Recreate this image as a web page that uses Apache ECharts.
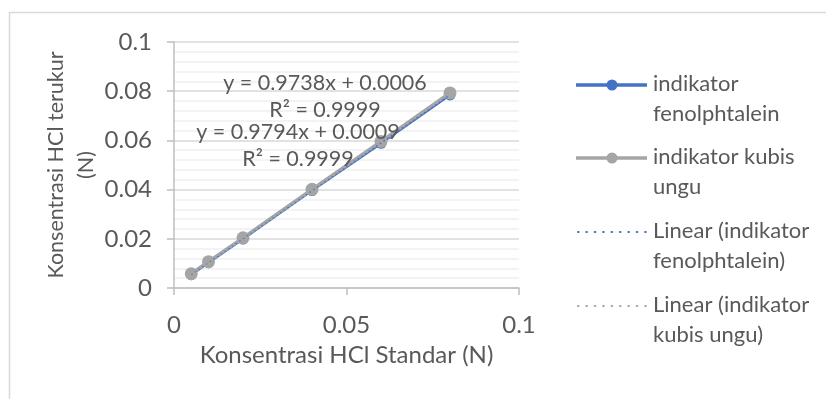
<!DOCTYPE html>
<html><head><meta charset="utf-8">
<script src="https://cdn.jsdelivr.net/npm/echarts@6/dist/echarts.min.js"></script>
<style>html,body{margin:0;padding:0;background:#fff}#c{width:826px;height:399px}</style>
</head><body><div id="c"></div>
<script>
const xStandar = [0.005, 0.01, 0.02, 0.04, 0.06, 0.08];
const yFenol = [0.0054, 0.0103, 0.0199, 0.0396, 0.0588, 0.0785];
const yKubis = [0.0058, 0.0107, 0.0204, 0.0401, 0.0596, 0.0793];
const trendX = [0.005, 0.08];
const trendFenol = [0.0055, 0.0785];
const trendKubis = [0.0058, 0.0793];
const eqFenol = ['y = 0.9738x + 0.0006', 'R² = 0.9999'];
const eqKubis = ['y = 0.9794x + 0.0009', 'R² = 0.9999'];
const xTicks = [0, 0.05, 0.1];
const yTicks = [0, 0.02, 0.04, 0.06, 0.08, 0.1];
const legendNames = ['indikator\nfenolphtalein', 'indikator kubis\nungu', 'Linear (indikator\nfenolphtalein)', 'Linear (indikator\nkubis ungu)'];

const BLUE = '#4472C4', GRAY = '#A5A5A5', TXT = '#595959';
const FONT = 'Lato, "Open Sans", sans-serif';
const chart = echarts.init(document.getElementById('c'), null, {renderer: 'canvas'});

function pairs(xs, ys) { return xs.map((x, i) => [x, ys[i]]); }

const legendItems = [];
const legY = [85, 158, 232, 306];
legendNames.forEach((n, i) => {
  const y = legY[i];
  const col = (i % 2 === 0) ? BLUE : GRAY;
  if (i < 2) {
    legendItems.push({type: 'line', shape: {x1: 576, y1: y, x2: 647, y2: y}, style: {stroke: col, lineWidth: 3.5}});
    legendItems.push({type: 'circle', shape: {cx: 612, cy: y, r: 5.5}, style: {fill: col}});
  } else {
    legendItems.push({type: 'line', shape: {x1: 578, y1: y, x2: 646, y2: y}, style: {stroke: col, lineWidth: 2.2, lineDash: [0.5, 7.9], lineCap: 'round'}});
  }
  legendItems.push({type: 'text', x: 653, y: y - 16, style: {text: n, fill: TXT, font: '22px ' + FONT, lineHeight: 30, textVerticalAlign: 'top'}, z: 10});
});

function eqText(x, y, t) {
  return {type: 'text', x: x, y: y, z: 10, style: {text: t, fill: TXT, font: '21.5px ' + FONT, textAlign: 'center', textVerticalAlign: 'middle'}};
}

const option = {
  animation: false,
  backgroundColor: '#fff',
  textStyle: {fontFamily: FONT},
  grid: {left: 174, right: 307, top: 42, bottom: 111, containLabel: false},
  xAxis: {
    type: 'value', min: 0, max: 0.1, interval: 0.05,
    name: 'Konsentrasi HCl Standar (N)', nameLocation: 'middle', nameGap: 55,
    nameTextStyle: {color: TXT, fontSize: 24, fontFamily: FONT},
    axisLine: {show: true, onZero: false, lineStyle: {color: '#BFBFBF', width: 1.5}},
    axisTick: {show: true, length: 7, lineStyle: {color: '#BFBFBF', width: 1.5}},
    axisLabel: {color: TXT, fontSize: 24, margin: 25, fontFamily: FONT, formatter: v => String(+v.toFixed(3))},
    splitLine: {show: false}
  },
  yAxis: {
    type: 'value', min: 0, max: 0.1, interval: 0.02,
    name: 'Konsentrasi HCl terukur\n(N)', nameLocation: 'middle', nameGap: 72,
    nameTextStyle: {color: TXT, fontSize: 21.5, lineHeight: 30, fontFamily: FONT},
    axisLine: {show: true, lineStyle: {color: '#BFBFBF', width: 1.5}},
    axisTick: {show: true, length: 7, lineStyle: {color: '#BFBFBF', width: 1.5}},
    axisLabel: {color: TXT, fontSize: 24, margin: 22, fontFamily: FONT, formatter: v => String(+v.toFixed(3))},
    splitLine: {show: true, lineStyle: {color: '#D9D9D9', width: 1.5}},
    minorTick: {show: false, splitNumber: 5},
    minorSplitLine: {show: true, lineStyle: {color: '#F0F0F0', width: 1.5}}
  },
  series: [
    {name: 'fenol', type: 'line', data: pairs(xStandar, yFenol), symbol: 'circle', symbolSize: 11,
     itemStyle: {color: BLUE}, lineStyle: {color: BLUE, width: 2.5}, z: 3},
    {name: 'kubis', type: 'line', data: pairs(xStandar, yKubis), symbol: 'circle', symbolSize: 13,
     itemStyle: {color: GRAY}, lineStyle: {color: GRAY, width: 3.5}, z: 4},
    {name: 'trendFenol', type: 'line', data: pairs(trendX, trendFenol), symbol: 'none',
     lineStyle: {color: BLUE, width: 1.5, type: [1.5, 3]}, z: 5},
    {name: 'trendKubis', type: 'line', data: pairs(trendX, trendKubis), symbol: 'none',
     lineStyle: {color: GRAY, width: 1.5, type: [1.5, 3]}, z: 5}
  ],
  graphic: [
    {type: 'rect', shape: {x: 9.5, y: 12.5, width: 830, height: 400}, style: {fill: 'none', stroke: '#D9D9D9', lineWidth: 1.5}, z: -1},
    eqText(325, 83, eqFenol[0]),
    eqText(325, 110, eqFenol[1]),
    eqText(298, 132, eqKubis[0]),
    eqText(298, 159, eqKubis[1])
  ].concat(legendItems)
};
chart.setOption(option);
</script>
</body></html>
